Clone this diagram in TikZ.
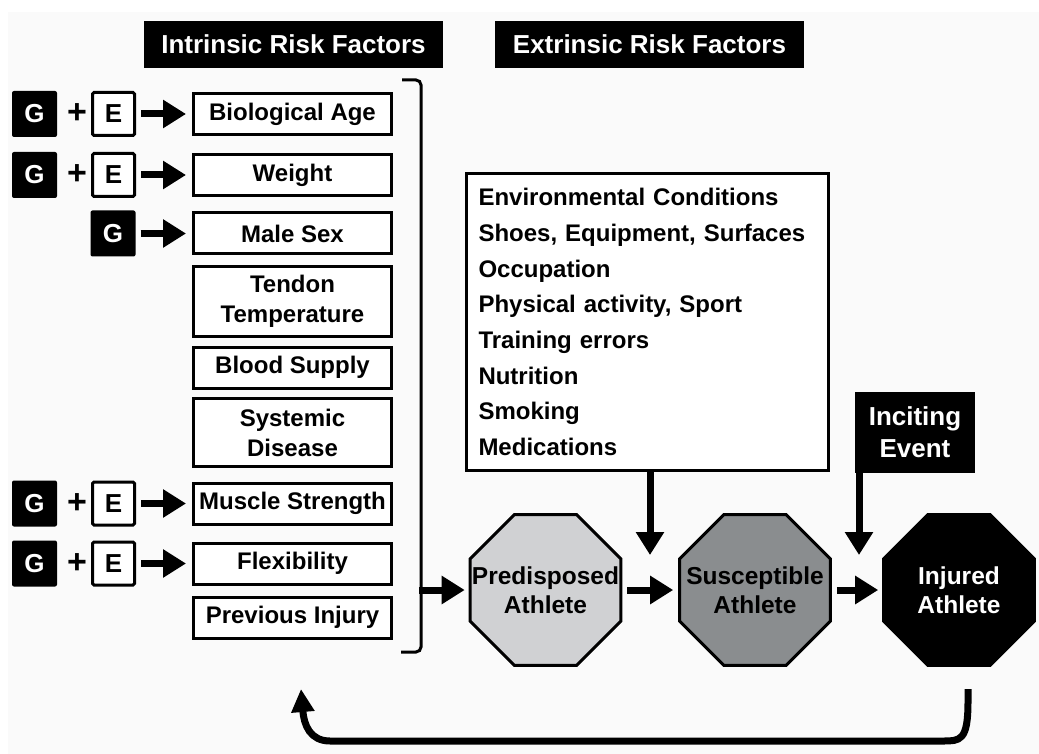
\documentclass[tikz,border=0pt]{standalone}
\usepackage{fontspec}
\setmainfont{Liberation Sans}
\usetikzlibrary{arrows.meta,shapes.geometric}
\definecolor{bggray}{RGB}{250,250,250}
\definecolor{predgray}{RGB}{208,209,211}
\definecolor{suscgray}{RGB}{138,141,143}

\begin{document}
\begin{tikzpicture}[x=1pt,y=-1pt]
  \tikzstyle{hdr}=[fill=black,text=white,minimum height=47pt,inner sep=0pt,
    font=\fontsize{26}{30}\selectfont\bfseries]
  \tikzstyle{rf}=[draw=black,line width=3pt,fill=white,minimum width=198pt,minimum height=41pt,
    align=center,inner sep=0pt,font=\fontsize{24}{30}\selectfont\bfseries]
  \tikzstyle{gbox}=[fill=black,text=white,rounded corners=2pt,minimum width=45pt,minimum height=46pt,
    inner sep=0pt,font=\fontsize{26}{30}\selectfont\bfseries]
  \tikzstyle{ebox}=[draw=black,line width=3pt,fill=white,rounded corners=1.5pt,minimum width=42pt,
    minimum height=43pt,inner sep=0pt,font=\fontsize{26}{30}\selectfont\bfseries]
  \tikzstyle{oct}=[regular polygon,regular polygon sides=8,minimum size=163pt,inner sep=0pt,
    draw=black,line width=3pt]
  \tikzstyle{octtxt}=[align=center,inner sep=0pt,font=\fontsize{24.5}{29}\selectfont\bfseries]
  \tikzstyle{arr}=[line width=7pt,-{Triangle[length=23pt,width=27pt]}]

  % -- background --
  \useasboundingbox (0,0) rectangle (1039,754);
  \fill[bggray] (8,12) rectangle (1039,754);

  % -- headers --
  \node[hdr,minimum width=299pt] (intr) at (293.5,44.5) {Intrinsic Risk Factors};
  \node[hdr,minimum width=309pt] (extr) at (649.5,44.5) {Extrinsic Risk Factors};

  % -- intrinsic risk factors --
  \node[rf] (rf1) at (292.5,114) {Biological Age};
  \node[rf] (rf2) at (292.5,175) {Weight};
  \node[rf] (rf3) at (292.5,233.5) {Male Sex};
  \node[rf,minimum height=70pt] (rf4) at (292.5,301.5) {Tendon\\Temperature};
  \node[rf] (rf5) at (292.5,367.5) {Blood Supply};
  \node[rf,minimum height=68pt] (rf6) at (292.5,432.5) {Systemic\\Disease};
  \node[rf] (rf7) at (292.5,503.5) {Muscle Strength};
  \node[rf] (rf8) at (292.5,563.5) {Flexibility};
  \node[rf] (rf9) at (292.5,617.5) {Previous Injury};

  % -- genes + environment --
  \foreach \r/\y in {1/114,2/175,7/503.5,8/563.5}{
    \node[gbox] (g\r) at (34.5,\y) {G};
    \node[font=\fontsize{34}{36}\selectfont\bfseries] (plus\r) at (77,\y) {+};
    \node[ebox] (e\r) at (113.5,\y) {E};
    \draw[arr,shorten <=5pt,shorten >=6pt] (e\r) -- (rf\r);
  }
  \node[gbox] (g3) at (113,233.5) {G};
  \draw[arr,shorten <=5pt,shorten >=6pt] (g3) -- (rf3);

  % -- bracket --
  \draw[line width=3pt,rounded corners=5pt] (402,80) -- (421,80) -- (421,652) -- (401,652);
  \coordinate (brk) at (419,590);

  % -- athletes --
  \node[oct,fill=predgray] (pre) at (545.5,590) {};
  \node[octtxt] (pretxt) at (pre) {Predisposed\\Athlete};
  \node[oct,fill=suscgray] (sus) at (755,590) {};
  \node[octtxt] (sustxt) at (sus) {Susceptible\\Athlete};
  \node[oct,fill=black] (inj) at (959,590) {};
  \node[octtxt,text=white] (injtxt) at (inj) {Injured\\Athlete};

  \draw[arr,shorten >=4pt] (brk) -- (pre);
  \draw[arr,shorten <=5pt,shorten >=5pt] (pre) -- (sus);
  \draw[arr,shorten <=5pt,shorten >=4pt] (sus) -- (inj);

  % -- extrinsic risk factors --
  \node[draw=black,line width=3pt,fill=white,minimum height=297pt,text width=338pt,inner xsep=12pt,
    align=left,font=\fontsize{24}{35.7}\selectfont\bfseries] (ext) at (647.5,322)
    {Environmental Conditions\\ Shoes, Equipment, Surfaces\\ Occupation\\ Physical activity, Sport\\
     Training errors\\ Nutrition\\ Smoking\\ Medications};
  \coordinate (exttip) at (650,555);
  \draw[arr] (ext.south -| exttip) -- (exttip);

  % -- inciting event --
  \node[fill=black,text=white,minimum width=120pt,minimum height=81pt,inner sep=0pt,align=center,
    font=\fontsize{26}{32}\selectfont\bfseries] (inc) at (915,432.5) {Inciting\\Event};
  \coordinate (inctip) at (859,555);
  \draw[arr] (inc.south -| inctip) -- (inctip);

  % -- feedback loop --
  \coordinate (fbs) at (968,689);
  \coordinate (fbe) at (301,689);
  \draw[line width=7pt,-{Triangle[length=23pt,width=22pt]}] (fbs) -- (968,702)
    .. controls (968,741) and (960,741) .. (943,741) -- (330,741)
    .. controls (310,741) and (304,725) .. (fbe);
\end{tikzpicture}
\end{document}
